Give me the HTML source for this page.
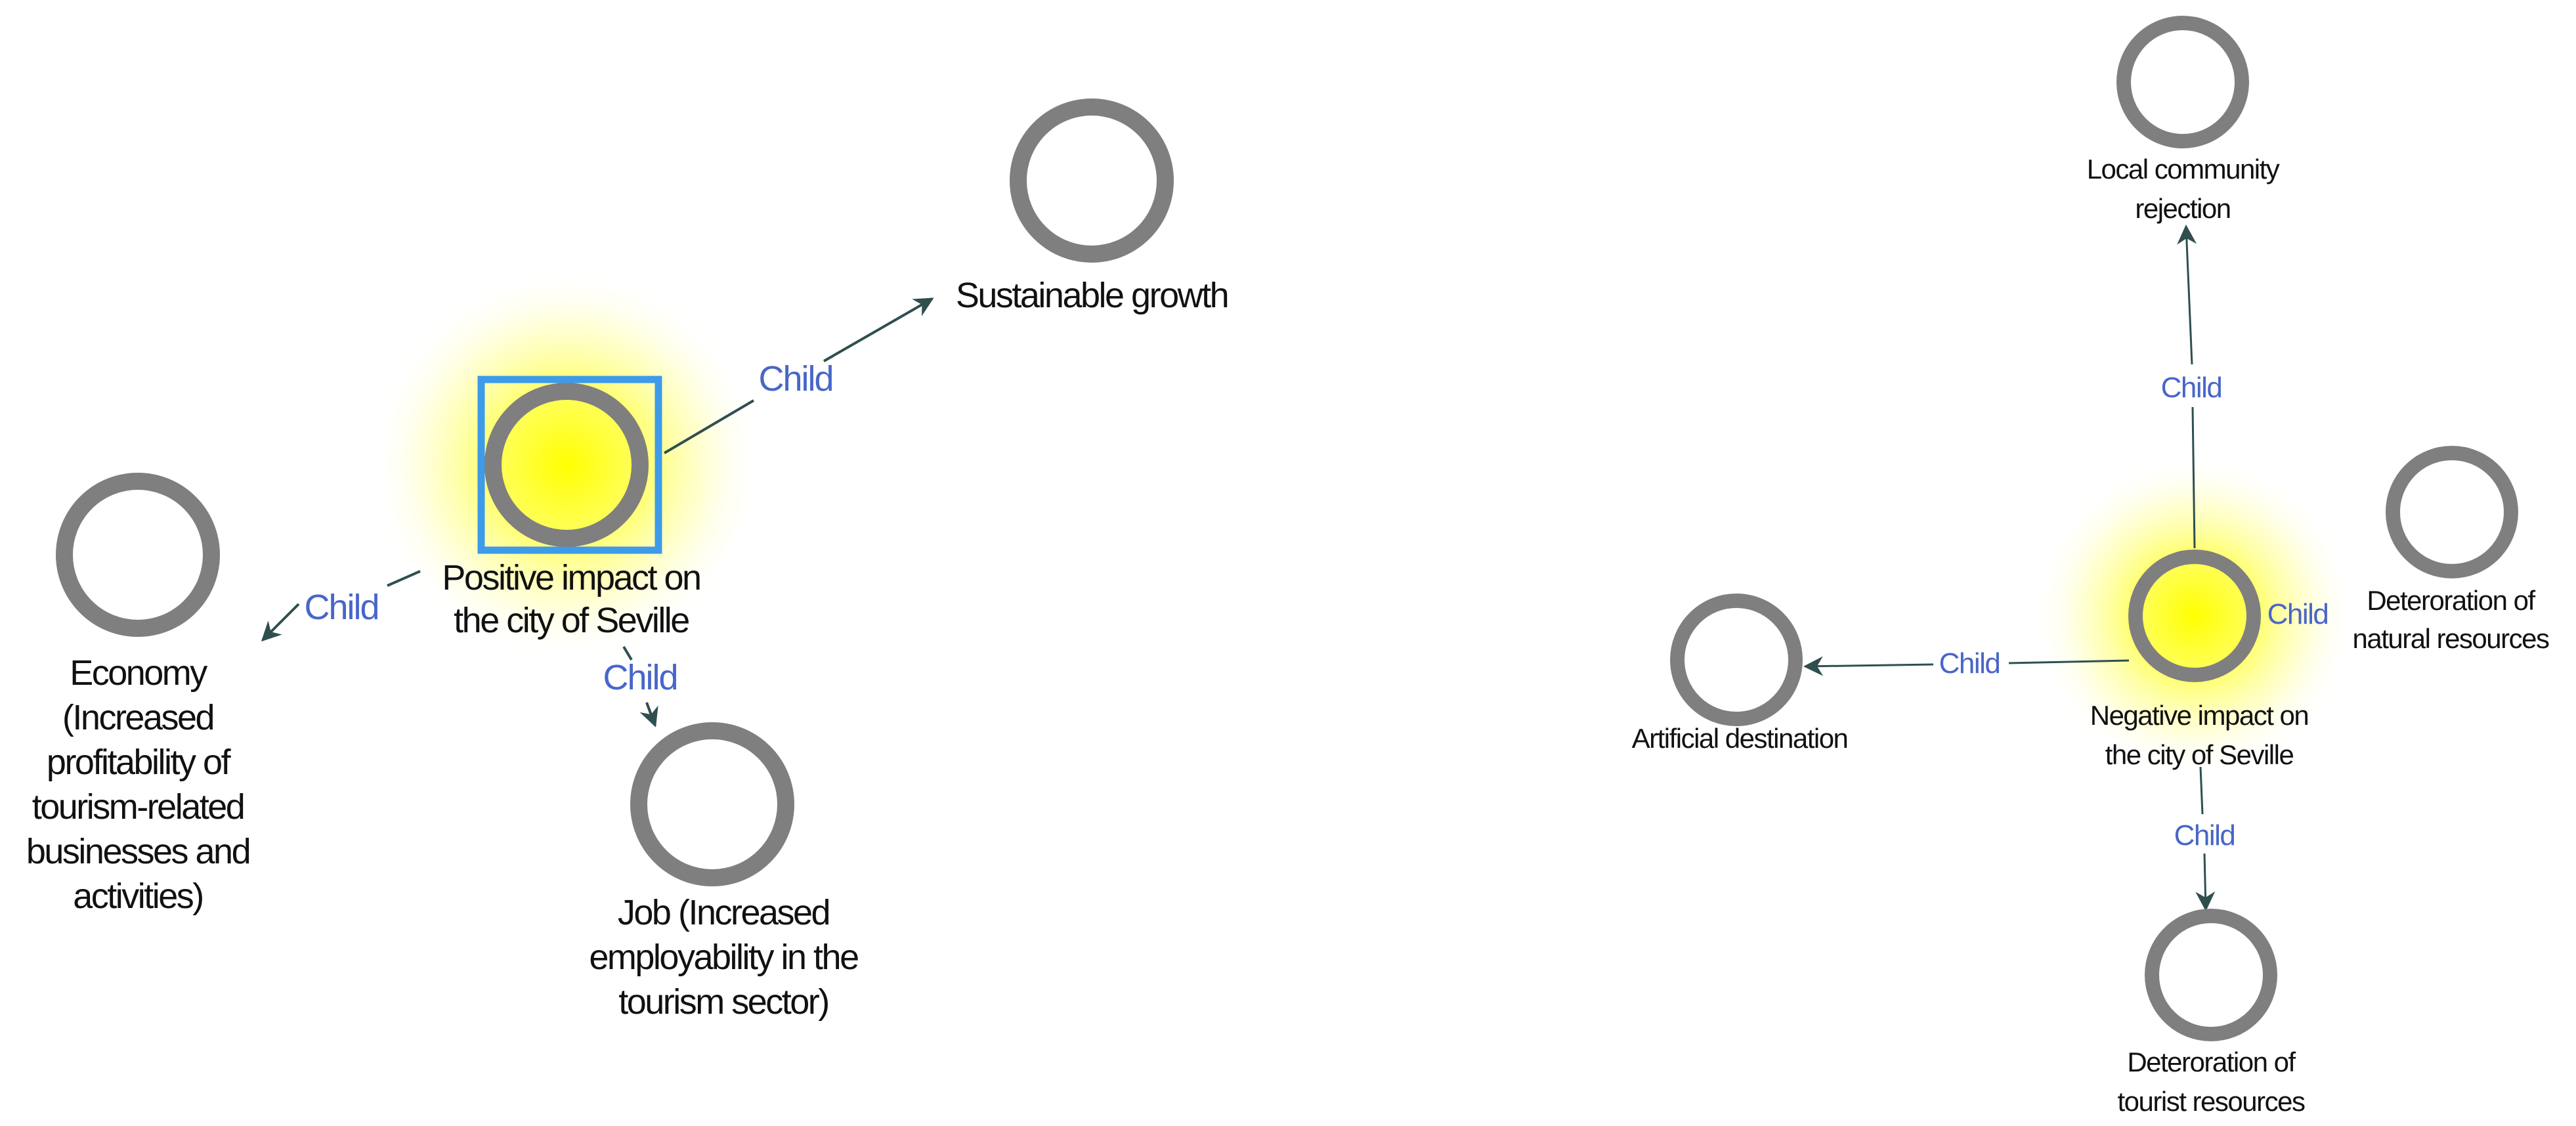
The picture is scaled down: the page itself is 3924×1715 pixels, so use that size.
<!DOCTYPE html>
<html><head><meta charset="utf-8"><style>
html,body{margin:0;padding:0;background:#fff;}
svg{display:block;}
text{font-family:"Liberation Sans",Arial,sans-serif;}
</style></head><body>
<svg width="3924" height="1715" viewBox="0 0 3924 1715" xmlns="http://www.w3.org/2000/svg">
<defs>
<radialGradient id="g1">
<stop offset="0" stop-color="#ffff00" stop-opacity="1"/>
<stop offset="0.35" stop-color="#ffff30" stop-opacity="0.8"/>
<stop offset="0.7" stop-color="#ffff90" stop-opacity="0.4"/>
<stop offset="1" stop-color="#ffffff" stop-opacity="0"/>
</radialGradient>
<marker id="ar2" viewBox="0 0 10 10" refX="9" refY="5" markerWidth="40" markerHeight="30" markerUnits="userSpaceOnUse" orient="auto">
<path d="M0,0 L10,5 L0,10 L3,5 z" fill="#2f4f4f"/>
</marker>
</defs>

<circle cx="863" cy="708" r="300" fill="url(#g1)"/>
<circle cx="3343" cy="938" r="245" fill="url(#g1)"/>

<g stroke="#2f4f4f" stroke-width="4" fill="none">
<line x1="1012" y1="690" x2="1148" y2="610"/>
<line x1="1255" y1="550" x2="1420" y2="455" marker-end="url(#ar2)"/>
<line x1="640" y1="870" x2="590" y2="892"/>
<line x1="455" y1="920" x2="400" y2="975" marker-end="url(#ar2)"/>
<line x1="950" y1="985" x2="962" y2="1005"/>
<line x1="985" y1="1070" x2="998" y2="1105" marker-end="url(#ar2)"/>
</g>

<g stroke="#2f4f4f" stroke-width="3" fill="none">
<line x1="3343" y1="835" x2="3340" y2="620"/>
<line x1="3339" y1="555" x2="3330" y2="345" marker-end="url(#ar2)"/>
<line x1="3243" y1="1006" x2="3060" y2="1010"/>
<line x1="2945" y1="1012" x2="2750" y2="1015" marker-end="url(#ar2)"/>
<line x1="3352" y1="1168" x2="3355" y2="1240"/>
<line x1="3358" y1="1300" x2="3360" y2="1385" marker-end="url(#ar2)"/>
</g>

<rect x="733" y="578" width="270" height="260" fill="none" stroke="#3d9be9" stroke-width="11"/>
<circle cx="863" cy="708" r="112" fill="none" stroke="#7f7f7f" stroke-width="26"/>
<circle cx="1663" cy="275" r="112" fill="none" stroke="#7f7f7f" stroke-width="26"/>
<circle cx="210" cy="845" r="112" fill="none" stroke="#7f7f7f" stroke-width="26"/>
<circle cx="1085" cy="1225" r="112" fill="none" stroke="#7f7f7f" stroke-width="26"/>

<circle cx="3343" cy="938" r="90" fill="none" stroke="#7f7f7f" stroke-width="22"/>
<circle cx="3325" cy="125" r="90" fill="none" stroke="#7f7f7f" stroke-width="22"/>
<circle cx="3735" cy="780" r="90" fill="none" stroke="#7f7f7f" stroke-width="22"/>
<circle cx="2645" cy="1005" r="90" fill="none" stroke="#7f7f7f" stroke-width="22"/>
<circle cx="3368" cy="1485" r="90" fill="none" stroke="#7f7f7f" stroke-width="22"/>

<g font-size="54" fill="#111" text-anchor="middle" letter-spacing="-2.5">
<text x="870" y="898">Positive impact on</text>
<text x="870" y="963">the city of Seville</text>
<text x="1663" y="468">Sustainable growth</text>
<text x="210" y="1043">Economy</text>
<text x="210" y="1111">(Increased</text>
<text x="210" y="1179">profitability of</text>
<text x="210" y="1247">tourism-related</text>
<text x="210" y="1315">businesses and</text>
<text x="210" y="1383">activities)</text>
<text x="1102" y="1408">Job (Increased</text>
<text x="1102" y="1476">employability in the</text>
<text x="1102" y="1544">tourism sector)</text>
</g>
<g font-size="54" fill="#4866c8" text-anchor="middle" letter-spacing="-2">
<text x="1212" y="595">Child</text>
<text x="520" y="943">Child</text>
<text x="975" y="1050">Child</text>
</g>

<g font-size="42" fill="#111" text-anchor="middle" letter-spacing="-1.5">
<text x="3325" y="272">Local community</text>
<text x="3325" y="332">rejection</text>
<text x="3733" y="929">Deteroration of</text>
<text x="3733" y="987">natural resources</text>
<text x="2650" y="1139">Artificial destination</text>
<text x="3350" y="1104">Negative impact on</text>
<text x="3350" y="1164">the city of Seville</text>
<text x="3368" y="1632">Deteroration of</text>
<text x="3368" y="1692">tourist resources</text>
</g>
<g font-size="44" fill="#4866c8" text-anchor="middle" letter-spacing="-1.5">
<text x="3338" y="605">Child</text>
<text x="3000" y="1025">Child</text>
<text x="3500" y="950">Child</text>
<text x="3358" y="1287">Child</text>
</g>
</svg>
</body></html>
